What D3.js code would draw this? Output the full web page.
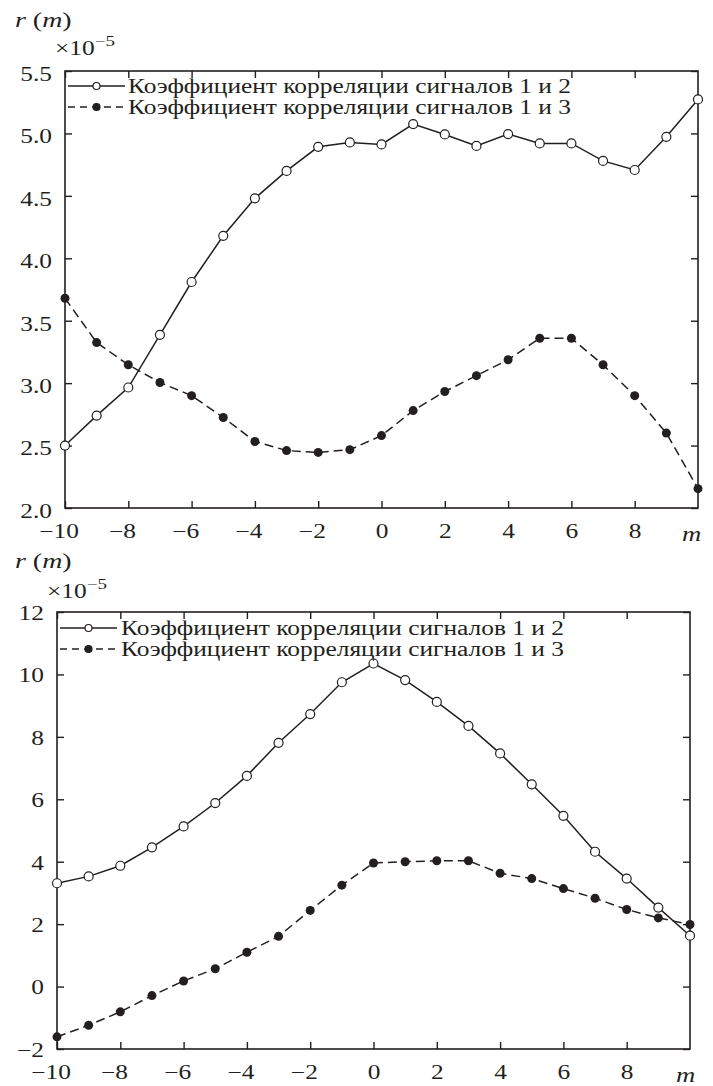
<!DOCTYPE html>
<html><head><meta charset="utf-8">
<script src="https://cdn.jsdelivr.net/npm/d3@7"></script>
<style>
body{margin:0;background:#fff}
text{font-family:"Liberation Serif","Times New Roman",serif;fill:#231f20}
</style>
</head><body>
<svg id="c" width="713" height="1086"></svg>
<script>
// ---- data ----
const lags = [-10,-9,-8,-7,-6,-5,-4,-3,-2,-1,0,1,2,3,4,5,6,7,8,9,10];
const topSeries12 = [2.50,2.74,2.965,3.387,3.81,4.18,4.48,4.70,4.893,4.928,4.912,5.075,4.992,4.90,4.995,4.92,4.92,4.78,4.707,4.973,5.272];
const topSeries13 = [3.68,3.325,3.147,3.005,2.90,2.725,2.533,2.46,2.445,2.467,2.58,2.78,2.933,3.06,3.187,3.36,3.36,3.147,2.90,2.60,2.155];
const botSeries12 = [3.31,3.53,3.87,4.46,5.13,5.88,6.75,7.81,8.73,9.75,10.35,9.82,9.12,8.35,7.47,6.48,5.47,4.32,3.46,2.53,1.63];
const botSeries13 = [-1.61,-1.24,-0.81,-0.29,0.18,0.57,1.10,1.61,2.44,3.25,3.96,4.00,4.03,4.03,3.63,3.46,3.14,2.83,2.47,2.20,1.99];
const xTicks = [-10,-8,-6,-4,-2,0,2,4,6,8];
const topYTicks = [2.0,2.5,3.0,3.5,4.0,4.5,5.0,5.5];
const botYTicks = [-2,0,2,4,6,8,10,12];
const legendLabels = ["Коэффициент корреляции сигналов 1 и 2","Коэффициент корреляции сигналов 1 и 3"];
const xAxisName = "m";
const scaleNote = ["×10","−5"];

// ---- drawing ----
const svg = d3.select("#c");
const INK = "#231f20";
const SX = 1.27;
const minus = v => v < 0 ? "\u2212" + Math.abs(v) : String(v);

function panel(o){
  const x = d3.scaleLinear().domain([-10,10]).range([o.l,o.r]);
  const y = d3.scaleLinear().domain(o.yDomain).range([o.b,o.t]);
  const g = svg.append("g");

  const styleAxis = sel => {
    sel.select(".domain").remove();
    sel.selectAll(".tick line").attr("stroke",INK).attr("stroke-width",1.4);
    sel.selectAll(".tick text").attr("fill",INK).style("font-size","20px")
      .style("font-family",'"Liberation Serif",serif');
  };

  const bx = g.append("g").attr("transform",`translate(0,${o.b})`)
    .call(d3.axisBottom(x).tickValues(xTicks).tickSize(-7).tickPadding(16).tickFormat(minus))
    .call(styleAxis);
  bx.selectAll(".tick text").attr("transform",`scale(${SX},1)`)
    .attr("dx", d => d < 0 ? -5 : 0);
  g.append("g").attr("transform",`translate(0,${o.t})`)
    .call(d3.axisTop(x).tickValues(xTicks).tickSize(-7).tickFormat(""))
    .call(styleAxis);
  const ly = g.append("g").attr("transform",`translate(${o.l},0)`)
    .call(d3.axisLeft(y).tickValues(o.yTicks).tickSize(-7).tickPadding(13).tickFormat(o.yFmt))
    .call(styleAxis);
  ly.selectAll(".tick text").attr("x",-13/SX).attr("y",o.yLabShift).attr("transform",`scale(${SX},1)`);
  g.append("g").attr("transform",`translate(${o.r},0)`)
    .call(d3.axisRight(y).tickValues(o.yTicks).tickSize(-7).tickFormat(""))
    .call(styleAxis);

  g.append("rect").attr("x",o.l).attr("y",o.t).attr("width",o.r-o.l).attr("height",o.b-o.t)
    .attr("fill","none").attr("stroke",INK).attr("stroke-width",1.6);

  // x axis name
  g.append("text").attr("transform",`translate(${o.mX},${o.b+33}) scale(${SX},1)`)
    .style("font-size","21px").style("font-style","italic").text(xAxisName);

  // y axis title r(m)
  const t = g.append("text").attr("transform",`translate(${o.rX},${o.rY}) scale(${SX},1)`).style("font-size","22px");
  t.append("tspan").style("font-style","italic").text("r");
  t.append("tspan").text(" (");
  t.append("tspan").style("font-style","italic").text("m");
  t.append("tspan").text(")");
  // x10^-5
  const s = g.append("text").attr("transform",`translate(${o.eX},${o.eY}) scale(${SX},1)`).style("font-size","20px");
  s.append("tspan").text(scaleNote[0]);
  s.append("tspan").attr("dy",-9).style("font-size","15px").text(scaleNote[1]);

  const line = d3.line().x((d,i)=>x(lags[i])).y(d=>y(d));
  g.append("path").datum(o.s13).attr("d",line).attr("fill","none").attr("stroke",INK)
    .attr("stroke-width",1.5).attr("stroke-dasharray","9,5");
  g.append("path").datum(o.s12).attr("d",line).attr("fill","none").attr("stroke",INK)
    .attr("stroke-width",1.5);
  g.selectAll(".p13").data(o.s13).join("circle").attr("cx",(d,i)=>x(lags[i])).attr("cy",d=>y(d))
    .attr("r",4.5).attr("fill",INK);
  g.selectAll(".p12").data(o.s12).join("circle").attr("cx",(d,i)=>x(lags[i])).attr("cy",d=>y(d))
    .attr("r",4.5).attr("fill","#fff").attr("stroke",INK).attr("stroke-width",1.2);

  // legend
  legendLabels.forEach((lab,i)=>{
    const yy = o.legY + i*o.legDy;
    g.append("line").attr("x1",o.legX1).attr("x2",o.legX2).attr("y1",yy).attr("y2",yy)
      .attr("stroke",INK).attr("stroke-width",1.6).attr("stroke-dasharray", i===1 ? "7,5" : null);
    g.append("circle").attr("cx",(o.legX1+o.legX2)/2).attr("cy",yy).attr("r",3.5)
      .attr("fill", i===1 ? INK : "#fff").attr("stroke",INK).attr("stroke-width",1.2);
    g.append("text").attr("transform",`translate(${o.legTX},${yy+7}) scale(${SX},1)`)
      .style("font-size","20px").text(lab);
  });
}

panel({l:65,r:698,t:71,b:508,yDomain:[2,5.5],yTicks:topYTicks,yFmt:d3.format(".1f"),yLabShift:3,
  s12:topSeries12,s13:topSeries13,mX:682,rX:15,rY:27,eX:55,eY:55,
  legY:86,legDy:21,legX1:68,legX2:125,legTX:128});
panel({l:57,r:690,t:612,b:1049,yDomain:[-2,12],yTicks:botYTicks,yFmt:minus,yLabShift:1,
  s12:botSeries12,s13:botSeries13,mX:676,rX:15,rY:568,eX:47,eY:598,
  legY:628,legDy:21,legX1:60,legX2:117,legTX:121});
</script>
</body></html>
